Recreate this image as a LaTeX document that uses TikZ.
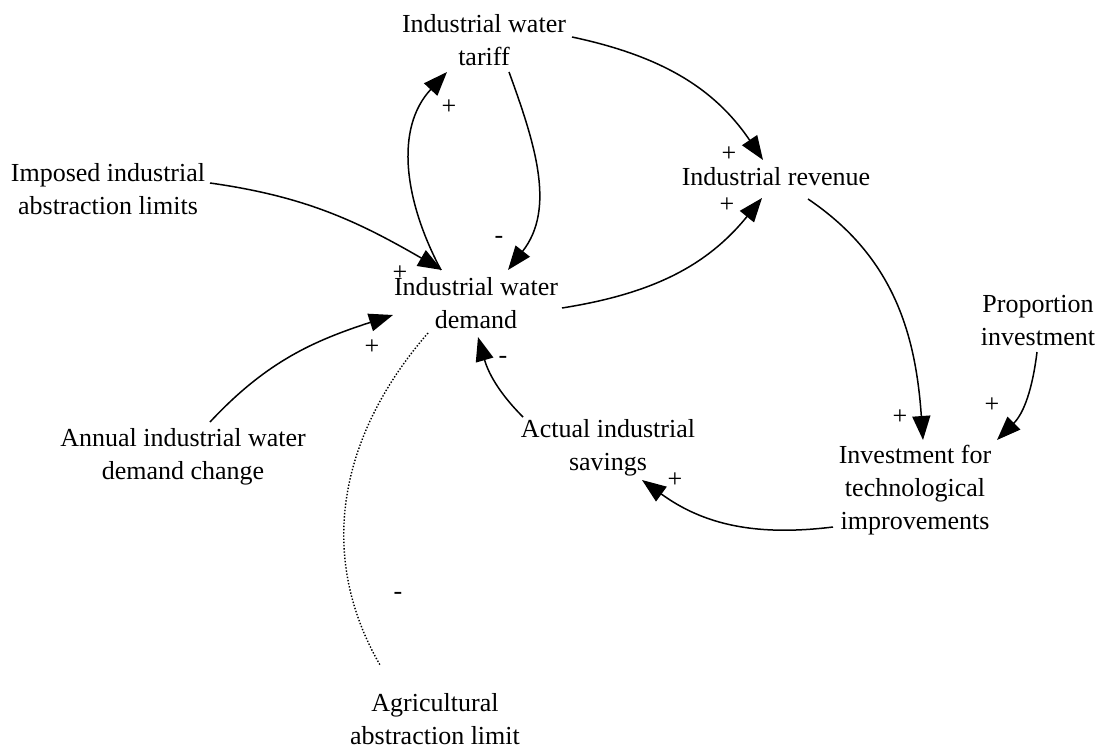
\documentclass[tikz,border=0pt]{standalone}
\usepackage{fontspec}
\setmainfont{Liberation Serif}
\usetikzlibrary{arrows.meta,calc}

\tikzset{
  var/.style={align=center, inner sep=0pt, font=\fontsize{26}{33}\selectfont},
  pol/.style={inner sep=0pt, font=\fontsize{26}{33}\selectfont},
  link/.style={line width=1.5pt, -{Triangle[length=24pt,width=18pt]}},
  weak/.style={line width=1.4pt, dash pattern=on 1.4pt off 1.8pt},
}

\begin{document}
\begin{tikzpicture}[x=1pt,y=-1pt]
\useasboundingbox (0,0) rectangle (1108,749);

% variables
\node[var] (tar)  at (484,40)  {Industrial water\\tariff};
\node[var] (imp)  at (108,189) {Imposed industrial\\abstraction limits};
\node[var] (rev)  at (776,177) {Industrial revenue};
\node[var] (dem)  at (476,303) {Industrial water\\demand};
\node[var] (prop) at (1038,321) {Proportion\\investment};
\node[var] (ann)  at (183,457) {Annual industrial water\\demand change};
\node[var] (sav)  at (608,448) {Actual industrial\\savings};
\node[var] (inv)  at (915,490) {Investment for\\technological\\improvements};
\node[var] (agr)  at (435,719) {Agricultural\\abstraction limit};

% causal links
\draw[link] ($(dem)+(-35,-33)$) to[out=118,in=227] ($(tar)+(-37,32)$);
\draw[link] ($(tar)+(25,32)$) to[out=-70,in=52] ($(dem)+(32,-33)$);
\draw[link] ($(imp)+(102,-6)$) to[out=-8,in=150] ($(dem)+(-34,-33)$);
\draw[link] ($(tar)+(88,-3)$) to[out=-12,in=124] ($(rev)+(-13,-17)$);
\draw[link] ($(dem)+(86,5)$) to[out=9,in=231] ($(rev)+(-14,21)$);
\draw[link] ($(rev)+(32,22)$) to[out=-34,in=94] ($(inv)+(8,-50)$);
\draw[link] ($(prop)+(-1,31)$) to[out=-97,in=45] ($(inv)+(82,-50)$);
\draw[link] ($(inv)+(-82,37)$) to[out=187,in=-36] ($(sav)+(34,32)$);
\draw[link] ($(sav)+(-85,-31)$) to[out=135,in=-74] ($(dem)+(2,34)$);
\draw[link] ($(ann)+(27,-35)$) to[out=47,in=198] ($(dem)+(-83,12)$);
\draw[weak] ($(dem)+(-48,30)$) to[out=229,in=120] ($(agr)+(-55,-54)$);

% link polarities
\node[pol] (p1)  at (449,107) {+};
\node[pol] (p2)  at (499,240) {-};
\node[pol] (p3)  at (400,273) {+};
\node[pol] (p4)  at (729,154) {+};
\node[pol] (p5)  at (727,205) {+};
\node[pol] (p6)  at (900,417) {+};
\node[pol] (p7)  at (992,405) {+};
\node[pol] (p8)  at (675,480) {+};
\node[pol] (p9)  at (503,360) {-};
\node[pol] (p10) at (372,347) {+};
\node[pol] (p11) at (398,596) {-};
\end{tikzpicture}
\end{document}
